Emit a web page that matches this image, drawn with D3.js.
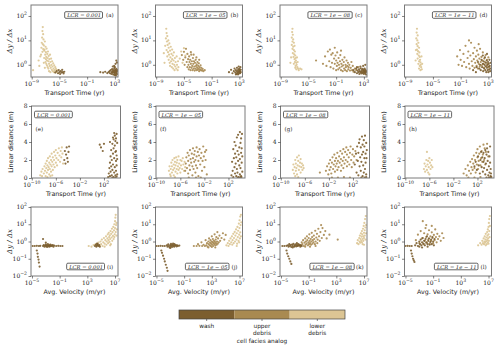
<!DOCTYPE html>
<html>
<head>
<meta charset="utf-8">
<script src="https://cdn.jsdelivr.net/npm/d3@7"></script>
<style>
  body { margin: 0; background: #fff; }
  text { fill: #222; }
</style>
</head>
<body>
<div id="chart"></div>
<script>
// points are [log10 x, y]; x = transport time (rows 1-2) or avg. velocity (row 3)

// (a) LCR = 0.001, time vs dy/dx
const aLow = [[-8.8,0.6],[-8.0,1.5],[-7.9,0.9],[-7.75,2.2],[-7.4,35],[-7.45,24],[-7.35,18],[-7.5,13],[-7.3,11],[-7.55,8],[-7.4,7],[-7.25,6.2],[-7.6,5],[-7.35,4.4],[-7.45,3.4],[-7.2,3.8],[-7.65,2.6],[-7.1,9],[-7.0,5.5],[-7.15,4.2],[-6.95,3.3],[-7.05,2.6],[-6.9,2.1],[-7.2,1.9],[-6.85,4.6],[-6.8,1.5],[-7.0,1.3],[-6.75,2.8],[-6.7,1.9],[-6.9,1.1],[-6.65,3.5],[-6.6,1.4],[-6.8,0.95],[-6.55,2.3],[-6.5,1.1],[-6.7,0.8],[-6.45,1.7],[-6.4,0.9],[-6.6,0.7],[-6.35,2.6],[-6.3,1.3],[-6.25,0.75],[-6.2,1.8],[-6.15,1.0],[-6.1,0.62],[-6.05,1.4],[-6.0,0.85],[-5.95,0.55],[-5.9,1.15],[-5.85,0.7],[-5.8,0.5],[-5.75,0.95],[-5.7,0.6],[-5.6,0.8],[-5.55,0.52],[-5.5,0.68],[-5.4,0.5],[-5.35,0.6],[-6.5,0.55],[-7.1,0.75],[-6.95,1.7],[-7.25,1.2],[-6.3,0.5]];
const aWash = [[-5.6,0.48],[-5.4,0.55],[-5.2,0.45],[-5.1,0.6],[-5.0,0.5],[-4.9,0.42],[-4.8,0.55],[-4.7,0.48],[-4.6,0.62],[-4.5,0.5],[-4.4,0.44],[-4.3,0.52],[0.9,0.5],[1.3,0.48],[1.6,0.52],[1.9,0.46],[2.1,0.5],[2.25,0.55],[2.3,0.45],[2.4,0.6],[2.5,0.42],[2.55,0.5],[2.6,0.66],[2.65,0.47],[2.7,0.55],[2.75,0.4],[2.8,0.6],[2.85,0.5],[2.9,0.72],[2.95,0.44],[3.0,0.56],[3.0,0.48],[3.05,0.62],[3.1,0.4],[3.1,0.52],[3.15,0.58],[3.2,0.45],[3.2,0.68],[3.25,0.5],[3.3,0.55],[3.3,0.42],[3.35,0.6],[2.9,0.9],[3.1,1.1],[3.2,1.5],[3.0,0.8],[2.7,0.85],[3.3,1.25],[2.95,0.38],[3.15,0.36]];

// (b) LCR = 1e-05, time vs dy/dx
const bLow = [[-7.9,3],[-7.8,1.2],[-7.7,6],[-7.6,12],[-7.55,30],[-7.5,20],[-7.5,4],[-7.45,9],[-7.4,15],[-7.4,2.2],[-7.35,6.5],[-7.3,3.3],[-7.25,10],[-7.2,1.6],[-7.2,5],[-7.15,2.6],[-7.1,7.5],[-7.05,1.2],[-7.0,3.8],[-7.0,0.9],[-6.95,2.0],[-6.9,5.5],[-6.85,1.4],[-6.8,2.8],[-6.75,0.8],[-6.7,4.2],[-6.7,1.7],[-6.65,1.1],[-6.6,2.4],[-6.55,0.7],[-6.5,1.5],[-6.45,3.2],[-6.4,1.0],[-6.35,0.6],[-6.3,1.9],[-6.25,0.85],[-6.2,1.3],[-6.1,0.7],[-6.05,2.2],[-6.0,1.0],[-5.9,0.6],[-5.85,1.4],[-5.8,0.8],[-5.6,1.8],[-5.4,3.5],[-5.2,1.2],[-5.0,4.8],[-4.8,2.4]];
const bUp = [[-5.3,2.5],[-5.1,1.6],[-5.0,3.4],[-4.9,1.0],[-4.8,2.0],[-4.7,4.5],[-4.6,1.3],[-4.5,0.8],[-4.5,2.8],[-4.4,1.7],[-4.35,1.0],[-4.3,0.65],[-4.25,2.2],[-4.2,1.3],[-4.15,0.8],[-4.1,1.6],[-4.05,0.6],[-4.0,1.1],[-3.95,2.6],[-3.9,0.75],[-3.85,1.4],[-3.8,0.9],[-3.75,0.6],[-3.7,1.9],[-3.65,1.1],[-3.6,0.7],[-3.55,1.4],[-3.5,0.85],[-3.45,0.58],[-3.4,1.2],[-3.35,0.7],[-3.3,1.6],[-3.25,0.9],[-3.2,0.6],[-3.15,1.05],[-3.1,0.75],[-3.05,1.3],[-3.0,0.62],[-2.95,0.9],[-2.9,0.7],[-2.85,1.15],[-2.8,0.55],[-2.75,0.8],[-2.7,0.65],[-2.6,0.95],[-2.55,0.6],[-2.5,0.75],[-2.4,0.58],[-2.3,0.68],[-2.2,0.55],[-2.0,0.6],[-3.6,2.6],[-3.2,2.0],[-4.0,3.3],[-2.8,1.6]];
const bWash = [[1.5,0.5],[1.8,0.62],[2.0,0.45],[2.2,0.55],[2.3,0.7],[2.4,0.48],[2.5,0.6],[2.55,0.42],[2.6,0.52],[2.65,0.75],[2.7,0.45],[2.75,0.58],[2.8,0.5],[2.85,0.65],[2.9,0.43],[2.95,0.55],[3.0,0.48],[3.0,0.7],[3.05,0.6],[3.1,0.45],[3.1,0.53],[3.15,0.8],[3.2,0.5],[3.2,0.62],[2.9,0.85],[2.5,0.4],[2.8,0.4]];

// (c) LCR = 1e-08, time vs dy/dx
const cLow = [[-7.3,30],[-7.35,22],[-7.25,17],[-7.4,13],[-7.2,11],[-7.3,9],[-7.1,8],[-7.4,6.5],[-7.2,5.5],[-7.0,6],[-7.3,4.5],[-7.1,4],[-6.95,3.5],[-7.25,3],[-7.05,2.7],[-6.9,2.4],[-7.15,2.1],[-6.85,1.9],[-7.0,1.7],[-6.8,1.5],[-6.95,1.3],[-6.75,1.2],[-7.1,1.1],[-6.7,1.0],[-6.85,0.9],[-6.6,0.8],[-6.9,0.75],[-6.5,0.7],[-6.75,0.65],[-6.4,0.6],[-6.2,0.7],[-6.0,0.65],[-7.5,2],[-7.6,1.2],[-6.65,2.0],[-6.55,1.3]];
const cUp = [[-3.9,1.5],[-2.9,1.1],[-2.6,2.2],[-2.4,0.9],[-2.2,3.5],[-2.0,1.4],[-1.9,4.2],[-1.8,0.8],[-1.7,2.6],[-1.6,1.2],[-1.5,3.0],[-1.4,0.7],[-1.3,1.8],[-1.2,1.1],[-1.1,2.4],[-1.0,0.6],[-1.0,1.5],[-0.9,0.9],[-0.85,3.2],[-0.8,1.2],[-0.7,0.65],[-0.65,1.9],[-0.6,1.0],[-0.5,0.75],[-0.45,1.4],[-0.4,2.5],[-0.3,0.6],[-0.25,1.1],[-0.2,0.85],[-0.1,1.6],[-0.05,0.55],[0.0,0.95],[0.1,1.3],[0.15,0.7],[0.2,2.0],[0.3,0.6],[0.35,1.0],[0.4,0.8],[0.5,1.5],[0.55,0.55],[0.6,0.9],[0.7,1.2],[0.75,0.65],[0.8,0.8],[0.9,1.0],[1.0,0.58],[1.1,0.75],[1.2,1.3],[1.3,0.6],[1.4,0.9],[1.5,0.52],[1.7,0.7],[1.9,0.6],[2.2,0.8],[-1.2,5],[-0.3,3.8]];
const cWash = [[1.5,0.6],[1.7,0.5],[1.9,0.7],[2.0,0.45],[2.1,0.58],[2.2,0.5],[2.3,0.65],[2.35,0.42],[2.4,0.55],[2.5,0.48],[2.55,0.72],[2.6,0.52],[2.65,0.44],[2.7,0.6],[2.75,0.5],[2.8,0.68],[2.85,0.46],[2.9,0.56],[2.95,0.62],[3.0,0.5],[3.0,0.42],[3.05,0.58],[3.1,0.48],[3.1,0.7],[3.15,0.54],[3.2,0.45],[3.2,0.62],[3.25,0.5],[3.3,0.56],[3.3,0.4],[3.35,0.52],[2.5,0.85],[2.9,0.9],[3.2,1.0],[2.0,0.8]];

// (d) LCR = 1e-11, time vs dy/dx
const dLow = [[-7.3,30],[-7.35,21],[-7.2,16],[-7.4,12],[-7.25,10],[-7.1,8],[-7.35,7],[-7.2,5.8],[-7.0,5],[-7.3,4.2],[-7.15,3.6],[-6.95,3.2],[-7.25,2.8],[-7.05,2.4],[-6.9,2.1],[-7.2,1.8],[-6.85,1.6],[-7.0,1.4],[-6.8,1.25],[-7.1,1.1],[-6.75,1.0],[-6.9,0.9],[-6.7,0.8],[-7.0,0.7],[-6.6,0.65],[-6.8,0.6],[-7.5,1.5],[-6.55,1.1],[-6.65,2.2],[-7.45,4]];
const dUp = [[-1.5,2.2],[-1.3,1.0],[-1.1,4],[-1.0,1.6],[-0.8,0.9],[-0.6,2.8],[-0.5,1.3],[-0.3,6],[-0.2,0.8],[0.0,1.9],[0.1,3.5],[0.2,1.1],[0.3,0.7],[0.4,2.4],[0.5,8],[0.6,1.4],[0.7,0.9],[0.8,3.0],[0.9,1.7],[1.0,0.75],[1.0,5],[1.1,1.2],[1.2,2.2],[1.3,0.9],[1.35,3.8],[1.4,1.5],[1.5,0.7],[1.55,2.6],[1.6,1.1],[1.7,1.8],[1.75,0.85],[1.8,4.5],[1.9,1.3],[2.0,2.1],[2.05,0.95],[2.1,1.5],[2.2,3.2],[2.3,1.1],[2.35,0.75],[2.4,1.8],[2.5,1.3],[2.6,2.5],[2.7,0.9],[2.8,1.6],[2.9,1.1],[3.0,2.0],[3.1,0.8],[0.2,10],[1.6,7]];
const dWash = [[1.3,0.8],[1.5,1.3],[1.7,0.7],[1.8,1.0],[1.9,0.6],[2.0,1.6],[2.1,0.8],[2.2,1.1],[2.25,0.55],[2.3,1.4],[2.4,0.7],[2.45,1.0],[2.5,2.0],[2.55,0.6],[2.6,0.85],[2.65,1.2],[2.7,0.5],[2.75,1.5],[2.8,0.75],[2.85,1.0],[2.9,0.6],[2.95,1.3],[3.0,0.85],[3.0,0.5],[3.05,1.1],[3.1,0.65],[3.15,1.6],[3.2,0.9],[3.25,0.55],[3.3,1.2],[3.3,0.7],[2.2,2.4],[2.8,2.8],[1.2,0.5],[0.8,0.6]];

// (e) LCR = 0.001, time vs linear distance
const eLow = [[-8.6,0.3],[-8.4,0.7],[-8.3,0.2],[-8.2,1.0],[-8.0,0.5],[-7.9,1.3],[-7.8,0.8],[-7.7,0.2],[-7.7,1.6],[-7.6,1.1],[-7.5,0.6],[-7.5,1.9],[-7.4,1.4],[-7.3,0.9],[-7.3,2.2],[-7.2,1.2],[-7.1,1.7],[-7.1,0.4],[-7.0,2.4],[-7.0,1.0],[-6.9,1.5],[-6.8,2.0],[-6.8,0.7],[-6.7,2.7],[-6.7,1.3],[-6.6,1.8],[-6.5,2.3],[-6.5,0.9],[-6.4,1.5],[-6.3,2.9],[-6.3,2.0],[-6.2,1.2],[-6.1,2.5],[-6.0,1.7],[-6.0,3.1],[-5.9,2.2],[-5.8,1.4],[-5.7,2.8],[-5.6,2.0],[-5.5,3.3],[-5.4,2.5],[-5.3,1.8],[-5.2,3.0],[-5.1,2.3],[-5.0,3.4],[-4.9,2.7],[-4.8,1.6],[-6.6,0.3],[-7.4,0.1],[-6.9,0.2]];
const eWash = [[-4.6,2.0],[-4.5,3.0],[-4.4,1.6],[-4.3,2.6],[-4.2,3.4],[-4.1,2.2],[-4.0,1.8],[-3.9,2.9],[-3.8,3.5],[1.3,3.7],[1.5,3.4],[1.8,3.0],[2.0,3.8],[2.7,0.1],[2.8,0.5],[2.9,1.1],[3.0,0.2],[3.0,1.7],[3.1,2.4],[3.1,0.7],[3.2,3.1],[3.2,1.3],[3.3,0.3],[3.3,2.0],[3.4,3.8],[3.4,0.9],[3.5,2.7],[3.5,1.5],[3.6,4.3],[3.6,0.1],[3.6,3.3],[3.7,2.2],[3.7,0.6],[3.8,4.7],[3.8,1.2],[3.8,3.6],[3.9,2.9],[3.9,0.3],[3.9,4.1],[4.0,1.9],[4.0,3.0],[4.0,0.8],[4.1,4.9],[4.1,2.5],[4.1,1.4],[4.2,3.9],[4.2,0.4],[4.2,2.1],[3.5,4.5],[3.0,4.0],[3.7,5.0],[4.0,4.4],[3.4,0.05],[3.9,0.05],[4.1,0.15]];

// (f) LCR = 1e-05, time vs linear distance
const fLow = [[-7.9,0.8],[-7.8,1.3],[-7.7,0.4],[-7.6,1.0],[-7.5,1.7],[-7.4,0.6],[-7.4,1.3],[-7.3,2.0],[-7.2,0.9],[-7.1,1.5],[-7.1,0.3],[-7.0,2.2],[-7.0,1.1],[-6.9,1.8],[-6.8,0.7],[-6.8,1.4],[-6.7,2.3],[-6.6,1.0],[-6.6,1.7],[-6.5,0.5],[-6.5,2.0],[-6.4,1.3],[-6.3,0.9],[-6.3,2.4],[-6.2,1.6],[-6.1,1.1],[-6.0,2.0],[-6.0,0.6],[-5.9,1.4],[-5.8,1.9],[-5.7,1.0],[-5.6,2.2],[-5.5,1.5],[-5.4,0.8],[-5.3,1.8],[-5.2,1.2],[-7.6,0.2],[-6.9,0.1]];
const fUp = [[-5.2,0.8],[-5.1,1.6],[-5.0,2.3],[-4.9,1.1],[-4.8,2.8],[-4.7,0.5],[-4.7,1.9],[-4.6,2.5],[-4.5,1.4],[-4.4,3.1],[-4.4,0.9],[-4.3,2.1],[-4.2,1.7],[-4.1,2.7],[-4.0,0.3],[-4.0,1.3],[-3.9,3.3],[-3.9,2.2],[-3.8,1.0],[-3.7,2.6],[-3.7,1.8],[-3.6,3.0],[-3.5,0.6],[-3.5,2.0],[-3.4,1.4],[-3.3,3.4],[-3.3,2.4],[-3.2,1.1],[-3.1,2.9],[-3.0,1.9],[-3.0,0.2],[-2.9,2.5],[-2.8,3.2],[-2.7,1.5],[-2.6,2.2],[-2.5,2.8],[-2.4,0.8],[-2.3,1.9],[-2.2,3.5],[-2.1,2.4],[-2.0,1.2],[-1.9,2.9],[-1.8,2.0],[-1.7,3.1],[-1.6,0.4],[-4.6,0.05],[-3.4,0.05],[-2.6,0.05]];
const fWash = [[2.5,0.3],[2.6,1.8],[2.7,0.8],[2.8,3.2],[2.8,0.1],[2.9,2.2],[3.0,1.2],[3.0,4.0],[3.1,2.7],[3.1,0.5],[3.2,1.6],[3.2,3.6],[3.3,0.2],[3.3,2.3],[3.4,4.5],[3.4,1.0],[3.5,3.0],[3.5,0.6],[3.6,1.9],[3.6,4.8],[3.7,2.6],[3.7,0.1],[3.8,3.4],[3.8,1.4],[3.9,5.1],[3.9,2.1],[3.9,0.4],[4.0,3.9],[4.0,1.1],[4.1,2.8],[4.1,4.4],[4.1,0.2],[4.2,1.7],[4.2,3.3],[4.3,0.7],[4.3,2.4],[4.25,4.9],[3.55,0.05],[3.95,0.05],[4.15,0.1]];

// (g) LCR = 1e-08, time vs linear distance
const gLow = [[-8.0,0.9],[-7.9,1.5],[-7.8,0.5],[-7.7,1.2],[-7.6,2.0],[-7.5,0.8],[-7.5,1.6],[-7.4,1.1],[-7.3,2.3],[-7.3,0.4],[-7.2,1.4],[-7.1,1.9],[-7.0,0.9],[-7.0,2.5],[-6.9,1.3],[-6.8,1.7],[-6.7,0.6],[-6.7,2.1],[-6.6,1.2],[-6.5,1.6],[-6.4,0.9],[-6.3,1.4],[-6.2,1.1],[-7.6,0.2],[-7.1,0.1]];
const gUp = [[-3.5,0.6],[-2.5,0.8],[-2.3,1.3],[-2.1,0.4],[-2.0,1.6],[-1.9,0.9],[-1.8,2.0],[-1.7,1.2],[-1.6,0.5],[-1.5,1.7],[-1.4,2.3],[-1.3,1.0],[-1.2,1.5],[-1.1,2.6],[-1.0,0.7],[-1.0,1.9],[-0.9,1.3],[-0.8,2.2],[-0.7,1.6],[-0.6,0.9],[-0.6,2.8],[-0.5,1.9],[-0.4,1.2],[-0.3,2.4],[-0.2,1.7],[-0.1,3.0],[0.0,0.8],[0.0,2.1],[0.1,1.4],[0.2,2.7],[0.3,1.9],[0.4,3.2],[0.4,1.1],[0.5,2.3],[0.6,1.6],[0.7,2.9],[0.8,2.0],[0.9,3.4],[1.0,1.3],[1.0,2.6],[1.1,1.8],[1.2,3.1],[1.3,2.3],[1.4,1.5],[1.5,2.8],[1.6,3.5],[1.7,2.0],[1.8,1.2],[1.9,2.6],[2.0,3.2],[2.1,1.7],[2.2,2.4],[2.4,3.0],[2.6,2.0],[-1.5,0.05],[-0.5,0.05],[0.5,0.1],[1.5,0.05]];
const gWash = [[2.3,1.5],[2.5,2.7],[2.6,0.6],[2.7,3.5],[2.8,1.9],[2.9,0.3],[2.9,2.8],[3.0,3.9],[3.1,1.3],[3.1,4.3],[3.2,2.3],[3.3,0.8],[3.3,3.4],[3.4,1.8],[3.5,4.6],[3.5,2.6],[3.6,0.2],[3.6,3.7],[3.7,1.4],[3.7,2.9],[3.8,4.2],[3.8,0.6],[3.9,2.2],[3.9,3.5],[4.0,1.0],[4.0,4.7],[4.1,2.7],[4.1,1.7],[4.2,3.9],[4.2,0.4],[4.25,2.2],[4.3,3.1],[3.4,0.05],[3.95,0.05],[4.2,0.1]];

// (h) LCR = 1e-11, time vs linear distance
const hLow = [[-6.9,1.0],[-6.8,1.6],[-6.7,0.7],[-6.6,1.3],[-6.5,2.0],[-6.4,0.9],[-6.3,1.5],[-6.2,1.9],[-6.2,0.6],[-6.1,1.2],[-6.0,2.2],[-5.9,1.7],[-5.8,1.0],[-5.7,1.4],[-5.6,2.0],[-5.5,1.2],[-6.4,2.9],[-6.0,0.4]];
const hUp = [[-0.3,0.5],[0.0,1.0],[0.2,0.3],[0.4,1.4],[0.6,0.8],[0.8,1.8],[0.9,0.5],[1.0,1.2],[1.1,2.1],[1.2,0.9],[1.3,1.6],[1.4,2.5],[1.5,1.1],[1.6,2.0],[1.7,0.6],[1.8,2.8],[1.9,1.5],[2.0,2.3],[2.0,3.2],[2.1,1.0],[2.2,1.9],[2.3,2.7],[2.4,3.5],[2.5,1.4],[2.6,2.2],[2.7,3.0],[2.8,1.8],[2.9,2.6],[3.0,3.7],[3.1,2.0],[3.2,3.3],[3.3,1.5],[3.4,2.9],[3.6,3.8],[3.8,2.4],[0.5,0.05],[1.5,0.05],[2.5,0.1]];
const hWash = [[1.5,1.3],[1.7,1.8],[1.9,0.9],[2.1,2.4],[2.2,1.4],[2.4,0.5],[2.5,2.0],[2.6,2.9],[2.7,1.2],[2.8,2.3],[2.9,0.7],[3.0,1.8],[3.0,2.8],[3.1,1.1],[3.2,2.2],[3.3,3.1],[3.3,0.4],[3.4,1.6],[3.5,2.6],[3.6,0.9],[3.6,3.3],[3.7,1.9],[3.8,0.3],[3.8,2.9],[3.9,1.3],[4.0,2.4],[4.0,0.6],[4.1,3.5],[4.1,1.7],[4.2,0.2],[4.2,1.0],[4.25,0.5],[4.3,0.1],[3.5,0.05],[3.9,0.05],[4.1,0.05]];

// (i) LCR = 0.001, avg. velocity vs dy/dx
const iLow = [[3.2,0.55],[3.6,0.5],[3.9,0.62],[4.2,0.7],[4.4,0.55],[4.6,0.85],[4.8,0.6],[4.9,1.0],[5.0,0.7],[5.1,1.3],[5.2,0.55],[5.3,0.9],[5.4,1.6],[5.5,0.75],[5.6,1.2],[5.7,2.0],[5.75,0.65],[5.8,1.0],[5.9,1.5],[5.95,2.6],[6.0,0.8],[6.05,1.2],[6.1,3.2],[6.15,1.8],[6.2,0.95],[6.25,2.3],[6.3,1.4],[6.35,4.0],[6.4,0.7],[6.45,2.8],[6.5,1.7],[6.55,5.5],[6.6,1.1],[6.65,3.5],[6.7,2.1],[6.75,7],[6.8,1.4],[6.85,4.5],[6.9,10],[6.95,2.6],[7.0,15],[7.0,6],[7.05,24],[7.1,3.5],[7.1,35],[7.15,9],[7.2,12],[7.25,5],[6.3,0.6],[5.5,0.5],[6.9,1.8],[7.2,2.2]];
const iWash = [[-4.9,0.55],[-4.6,0.55],[-4.3,0.56],[-4.0,0.55],[-3.8,0.56],[-4.3,0.3],[-4.2,0.2],[-4.15,0.13],[-4.05,0.09],[-4.0,0.06],[-3.9,0.035],[-3.4,0.55],[-3.3,0.62],[-3.2,0.5],[-3.1,0.58],[-3.0,0.66],[-2.95,0.52],[-2.9,0.6],[-2.8,0.48],[-2.75,0.56],[-2.7,0.7],[-2.6,0.55],[-2.55,0.62],[-2.5,0.5],[-2.4,0.58],[-2.35,0.66],[-2.3,0.53],[-2.2,0.6],[-2.1,0.55],[-2.0,0.62],[-1.9,0.5],[-1.8,0.58],[-3.4,1.4],[-3.0,0.85],[-1.5,0.55],[-1.2,0.56],[-0.9,0.55],[-0.6,0.55],[4.1,0.55],[4.2,0.65],[4.3,0.5],[4.4,0.6],[4.5,0.7],[4.6,0.55],[4.7,0.62],[4.8,0.5],[4.4,0.75]];

// (j) LCR = 1e-05, avg. velocity vs dy/dx
const jLow = [[5.1,0.6],[5.3,0.8],[5.4,0.55],[5.5,1.1],[5.6,0.7],[5.7,1.5],[5.8,0.9],[5.9,2.0],[5.95,0.65],[6.0,1.2],[6.1,2.8],[6.15,0.8],[6.2,1.6],[6.3,3.6],[6.35,1.0],[6.4,2.2],[6.5,5],[6.55,1.3],[6.6,3.0],[6.65,0.75],[6.7,7],[6.75,1.8],[6.8,4.2],[6.85,1.1],[6.9,11],[6.95,2.5],[7.0,17],[7.0,6],[7.05,1.5],[7.1,28],[7.1,3.4],[7.15,9],[7.2,35],[7.2,2.0],[7.25,13],[6.6,0.55],[6.95,0.9]];
const jUp = [[0.4,0.55],[0.8,0.55],[1.2,0.56],[1.6,0.55],[2.0,0.55],[1.0,0.7],[1.5,0.9],[1.8,0.65],[2.1,1.2],[2.2,0.6],[2.3,0.8],[2.4,0.5],[2.5,1.0],[2.55,0.7],[2.6,1.5],[2.7,0.6],[2.75,0.85],[2.8,1.2],[2.85,0.55],[2.9,0.75],[3.0,1.0],[3.0,2.0],[3.05,0.65],[3.1,0.9],[3.15,1.4],[3.2,0.55],[3.25,0.8],[3.3,1.1],[3.35,0.7],[3.4,2.6],[3.45,0.95],[3.5,0.6],[3.55,1.3],[3.6,0.8],[3.65,1.8],[3.7,0.65],[3.75,1.0],[3.8,3.5],[3.85,0.75],[3.9,1.5],[4.0,0.9],[4.1,2.2],[4.2,1.1],[4.4,1.6],[4.6,3.0],[4.8,1.3],[5.0,2.4],[3.0,0.48],[3.5,0.45],[2.5,0.45]];
const jWash = [[-5.0,0.55],[-4.7,0.55],[-4.4,0.56],[-4.1,0.55],[-3.8,0.55],[-4.3,0.3],[-4.2,0.22],[-4.05,0.15],[-3.9,0.1],[-3.8,0.07],[-3.65,0.045],[-3.5,0.03],[-3.4,0.02],[-3.5,0.6],[-3.4,0.5],[-3.3,0.68],[-3.2,0.55],[-3.1,0.45],[-3.0,0.62],[-2.95,0.52],[-2.9,0.72],[-2.8,0.58],[-2.75,0.48],[-2.7,0.65],[-2.6,0.55],[-2.5,0.6],[-2.45,0.5],[-2.4,0.7],[-2.3,0.57],[-2.2,0.62],[-2.1,0.52],[-2.0,0.6],[-1.9,0.55],[-1.7,0.58],[-3.0,0.42],[-2.6,0.75]];

// (k) LCR = 1e-08, avg. velocity vs dy/dx
const kLow = [[6.0,0.8],[6.1,1.2],[6.2,0.7],[6.3,1.6],[6.35,1.0],[6.4,2.2],[6.45,0.85],[6.5,1.4],[6.55,3.0],[6.6,1.1],[6.65,1.9],[6.7,4.0],[6.7,0.9],[6.75,2.6],[6.8,1.4],[6.85,5.5],[6.9,2.0],[6.9,1.1],[6.95,8],[7.0,3.2],[7.0,1.6],[7.05,12],[7.1,4.5],[7.1,2.2],[7.15,20],[7.2,6.5],[7.2,1.3],[7.25,30],[7.3,9],[7.3,3],[6.8,0.7],[7.0,0.65]];
const kUp = [[-2.2,0.6],[-2.0,0.9],[-1.9,0.7],[-1.8,1.2],[-1.7,0.55],[-1.6,0.85],[-1.5,1.5],[-1.45,0.65],[-1.4,1.0],[-1.3,0.75],[-1.25,2.0],[-1.2,1.2],[-1.1,0.6],[-1.05,0.9],[-1.0,1.6],[-0.95,0.7],[-0.9,2.6],[-0.85,1.1],[-0.8,0.8],[-0.7,1.4],[-0.65,0.65],[-0.6,1.0],[-0.55,3.2],[-0.5,1.8],[-0.45,0.75],[-0.4,1.2],[-0.3,0.9],[-0.25,2.2],[-0.2,1.4],[-0.1,0.7],[-0.05,4.2],[0.0,1.0],[0.1,1.7],[0.2,2.8],[0.25,0.8],[0.3,1.3],[0.4,5.5],[0.5,2.0],[0.6,1.1],[0.7,3.5],[0.8,9],[0.9,1.6],[1.0,6],[1.2,2.4],[1.4,4],[1.6,1.5],[2.0,2.5],[3.2,1.3],[-1.5,0.5],[-0.8,0.5],[0.0,0.55],[-2.6,0.55],[-3.0,0.55]];
const kWash = [[-4.8,0.55],[-4.5,0.55],[-4.2,0.56],[-4.2,0.3],[-4.1,0.2],[-3.95,0.14],[-3.8,0.1],[-3.65,0.07],[-3.5,0.05],[-4.0,0.6],[-3.9,0.5],[-3.8,0.7],[-3.7,0.55],[-3.6,0.62],[-3.5,0.48],[-3.4,0.66],[-3.3,0.55],[-3.2,0.72],[-3.1,0.5],[-3.0,0.6],[-2.9,0.68],[-2.8,0.52],[-2.7,0.62],[-2.6,0.56],[-2.5,0.7],[-2.4,0.58],[-2.3,0.64],[-2.2,0.5],[-2.1,0.6],[-2.0,0.55],[-3.3,0.45],[-2.7,0.8]];

// (l) LCR = 1e-11, avg. velocity vs dy/dx
const lLow = [[5.5,0.6],[5.8,0.8],[6.0,0.65],[6.1,1.1],[6.2,0.8],[6.3,1.5],[6.35,0.7],[6.4,1.0],[6.45,2.0],[6.5,0.85],[6.55,1.3],[6.6,2.8],[6.65,1.0],[6.7,1.7],[6.75,0.7],[6.8,3.5],[6.8,1.2],[6.85,2.2],[6.9,5],[6.9,0.9],[6.95,1.5],[7.0,7],[7.0,2.6],[7.05,12],[7.05,1.1],[7.1,4],[7.1,20],[7.15,1.8],[7.2,30],[7.2,8],[6.6,0.6],[7.0,0.75]];
const lUp = [[-3.5,1.2],[-3.2,2.5],[-3.0,0.8],[-2.8,4],[-2.6,1.5],[-2.5,15],[-2.4,0.7],[-2.3,3],[-2.2,1.1],[-2.1,6],[-2.0,1.8],[-1.9,0.9],[-1.8,2.6],[-1.7,1.3],[-1.6,4.5],[-1.5,0.75],[-1.4,2.0],[-1.3,1.1],[-1.2,3.4],[-1.1,1.6],[-1.0,0.8],[-0.9,2.4],[-0.8,1.2],[-0.7,5],[-0.6,1.8],[-0.5,0.9],[-0.4,2.8],[-0.3,1.4],[-0.1,2.0],[0.1,1.1],[0.3,3.0],[0.5,1.6],[-2.0,9],[-1.2,8]];
const lWash = [[-5.0,0.55],[-4.7,0.56],[-4.4,0.55],[-4.1,0.55],[-4.2,0.3],[-4.1,0.2],[-4.0,0.14],[-3.9,0.1],[-3.8,0.08],[-3.7,0.065],[-3.6,0.6],[-3.4,0.8],[-3.2,0.55],[-3.0,1.0],[-2.9,0.7],[-2.8,1.3],[-2.7,0.6],[-2.6,0.9],[-2.5,1.6],[-2.4,0.75],[-2.3,1.1],[-2.2,0.6],[-2.1,1.4],[-2.0,0.85],[-1.9,2.0],[-1.8,0.7],[-1.7,1.1],[-1.6,1.5],[-1.5,0.65],[-1.4,0.95],[-1.3,1.3],[-1.2,0.7],[-1.1,1.8],[-1.0,1.0],[-0.9,0.6],[-0.8,1.4],[-2.6,0.45],[-1.8,0.5],[-3.0,0.5]];

const lcrLabels = ["LCR = 0.001", "LCR = 1e \u2212 05", "LCR = 1e \u2212 08", "LCR = 1e \u2212 11"];
const panelLetters = ["abcd", "efgh", "ijkl"];
// per panel: [wash, upper debris, lower debris]
const panelSets = [
  [[aWash, [], aLow], [bWash, bUp, bLow], [cWash, cUp, cLow], [dWash, dUp, dLow]],
  [[eWash, [], eLow], [fWash, fUp, fLow], [gWash, gUp, gLow], [hWash, hUp, hLow]],
  [[iWash, [], iLow], [jWash, jUp, jLow], [kWash, kUp, kLow], [lWash, lUp, lLow]]
];

const faciesNames = ["wash", "upper|debris", "lower|debris"];
const faciesColors = ["#7c5e2f", "#a98a51", "#dcc594"];

const svg = d3.select("#chart").append("svg")
    .attr("width", 500)
    .attr("height", 349);

const colLeft = [31, 155.5, 280, 404.5];
const serif = "DejaVu Serif";
const sans = "DejaVu Sans";

const rows = [
  { top: 5, h: 72, w: 87, dx: 0, xDom: [-9.1, 3.45], yDom: [-0.5, 2.45], ylog: true,
    xTicks: [-9, -5, -1, 3], yTicks: [0, 1, 2],
    xLabel: "Transport Time (yr)", yLabel: "\u0394y / \u0394x" },
  { top: 106, h: 72, w: 89, dx: 0.5, xDom: [-10.05, 4.75], yDom: [0, 8], ylog: false,
    xTicks: [-10, -6, -2, 2], yTicks: [0, 2, 4, 6, 8],
    xLabel: "Transport Time (yr)", yLabel: "Linear distance (m)" },
  { top: 207, h: 69, w: 87, dx: 0, xDom: [-5.14, 7.43], yDom: [-2, 2], ylog: true,
    xTicks: [-5, -1, 3, 7], yTicks: [-2, -1, 0, 1, 2],
    xLabel: "Avg. Velocity (m/yr)", yLabel: "\u0394y / \u0394x" }
];

function powLabel(sel, e) {
  sel.append("tspan").text("10");
  sel.append("tspan")
      .attr("dy", -3)
      .attr("font-size", 4.6)
      .text(e < 0 ? "\u2212" + (-e) : e);
}

function lcrBox(g, x, y, anchor, label) {
  const t = g.append("text")
      .attr("x", x)
      .attr("y", y)
      .attr("text-anchor", anchor)
      .attr("font-family", serif)
      .attr("font-style", "italic")
      .attr("font-size", 5.2)
      .text(label);
  const b = t.node().getBBox();
  g.insert("rect", () => t.node())
      .attr("x", b.x - 1.5)
      .attr("y", b.y - 0.3)
      .attr("width", b.width + 3)
      .attr("height", b.height + 0.6)
      .attr("rx", 1.2)
      .attr("fill", "#fff")
      .attr("stroke", "#222")
      .attr("stroke-width", 0.7);
}

rows.forEach((row, ri) => {
  panelSets[ri].forEach((sets, ci) => {
    const pw = row.w;
    const g = svg.append("g")
        .attr("transform", "translate(" + (colLeft[ci] + row.dx) + "," + row.top + ")");

    const x = d3.scaleLog()
        .domain(row.xDom.map(e => Math.pow(10, e)))
        .range([0, pw]);
    const y = row.ylog
        ? d3.scaleLog().domain(row.yDom.map(e => Math.pow(10, e))).range([row.h, 0])
        : d3.scaleLinear().domain(row.yDom).range([row.h, 0]);

    const clipId = "clip" + ri + ci;
    g.append("clipPath").attr("id", clipId)
      .append("rect").attr("width", pw).attr("height", row.h);

    const pts = g.append("g").attr("clip-path", "url(#" + clipId + ")");
    // lower debris first, wash on top
    [2, 1, 0].forEach(fi => {
      pts.selectAll(null)
          .data(sets[fi])
        .enter().append("circle")
          .attr("cx", d => x(Math.pow(10, d[0])))
          .attr("cy", d => y(d[1]))
          .attr("r", 1.1)
          .attr("fill", faciesColors[fi])
          .attr("opacity", 0.9);
    });

    // frame
    g.append("rect")
        .attr("width", pw)
        .attr("height", row.h)
        .attr("fill", "none")
        .attr("stroke", "#7a7a7a")
        .attr("stroke-width", 1);

    // axes
    const xAxis = g.append("g")
        .attr("transform", "translate(0," + row.h + ")")
        .call(d3.axisBottom(x).tickValues(row.xTicks.map(e => Math.pow(10, e))).tickSize(2.5).tickFormat(() => ""));
    const yVals = row.ylog ? row.yTicks.map(e => Math.pow(10, e)) : row.yTicks;
    const yAxis = g.append("g")
        .call(d3.axisLeft(y).tickValues(yVals).tickSize(2.5).tickFormat(() => ""));
    [xAxis, yAxis].forEach(a => {
      a.select(".domain").remove();
      a.selectAll("line").attr("stroke", "#333").attr("stroke-width", 0.6);
    });

    row.xTicks.forEach(e => {
      g.append("text")
          .attr("x", x(Math.pow(10, e)))
          .attr("y", row.h + 9)
          .attr("text-anchor", "middle")
          .attr("font-family", serif)
          .attr("font-size", 6)
          .call(powLabel, e);
    });
    row.yTicks.forEach((e, i) => {
      const t = g.append("text")
          .attr("x", -4)
          .attr("y", y(yVals[i]) + 2)
          .attr("text-anchor", "end")
          .attr("font-family", serif)
          .attr("font-size", 6);
      if (row.ylog) t.call(powLabel, e); else t.text(e);
    });

    // axis labels
    g.append("text")
        .attr("x", pw / 2)
        .attr("y", row.h + 18)
        .attr("text-anchor", "middle")
        .attr("font-family", sans)
        .attr("font-size", 6.3)
        .text(row.xLabel);
    g.append("text")
        .attr("transform", "translate(-19," + (row.h / 2) + ") rotate(-90)")
        .attr("text-anchor", "middle")
        .attr("font-family", row.ylog ? serif : sans)
        .attr("font-style", row.ylog ? "italic" : "normal")
        .attr("font-size", row.ylog ? 7 : 6.3)
        .text(row.yLabel);

    // annotations
    const letter = "(" + panelLetters[ri][ci] + ")";
    if (ri === 0) {
      lcrBox(g, pw - 17, 12, "end", lcrLabels[ci]);
      g.append("text").attr("x", pw - 12).attr("y", 12)
          .attr("font-family", serif).attr("font-size", 5.5).text(letter);
    } else if (ri === 1) {
      lcrBox(g, 5.5, 10.5, "start", lcrLabels[ci]);
      g.append("text").attr("x", 4).attr("y", 25)
          .attr("font-family", serif).attr("font-size", 5.5).text(letter);
    } else {
      lcrBox(g, pw - 15, 61.5, "end", lcrLabels[ci]);
      g.append("text").attr("x", pw - 11).attr("y", 61.5)
          .attr("font-family", serif).attr("font-size", 5.5).text(letter);
    }
  });
});

// colour bar for cell facies
const cb = svg.append("g").attr("transform", "translate(179,310)");
const cbW = 166, cbH = 9;
const cbX = d3.scaleBand().domain(faciesNames).range([0, cbW]);

cb.selectAll("rect")
    .data(faciesNames)
  .enter().append("rect")
    .attr("x", d => cbX(d))
    .attr("width", cbX.bandwidth())
    .attr("height", cbH)
    .attr("fill", (d, i) => faciesColors[i]);

cb.append("rect")
    .attr("width", cbW)
    .attr("height", cbH)
    .attr("fill", "none")
    .attr("stroke", "#444")
    .attr("stroke-width", 0.7);

faciesNames.forEach(name => {
  const cx = cbX(name) + cbX.bandwidth() / 2;
  cb.append("line")
      .attr("x1", cx).attr("x2", cx)
      .attr("y1", cbH).attr("y2", cbH + 2)
      .attr("stroke", "#333").attr("stroke-width", 0.6);
  name.split("|").forEach((part, j) => {
    cb.append("text")
        .attr("x", cx)
        .attr("y", cbH + 9 + j * 7)
        .attr("text-anchor", "middle")
        .attr("font-family", sans)
        .attr("font-size", 5.8)
        .text(part);
  });
});

cb.append("text")
    .attr("x", cbW / 2)
    .attr("y", cbH + 24)
    .attr("text-anchor", "middle")
    .attr("font-family", sans)
    .attr("font-size", 5.8)
    .text("cell facies analog");
</script>
</body>
</html>
